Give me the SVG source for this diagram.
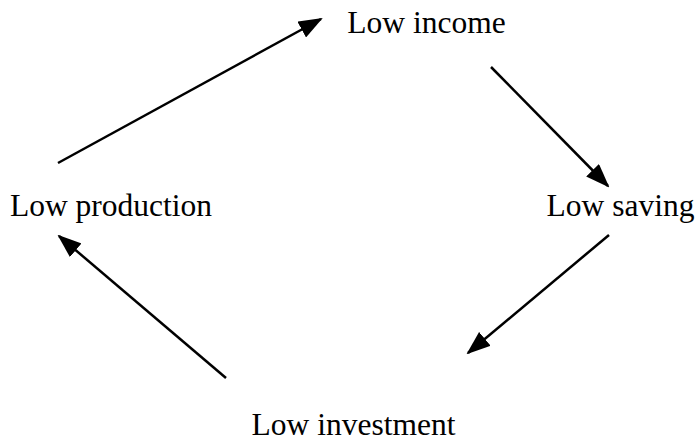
<svg xmlns="http://www.w3.org/2000/svg" width="698" height="440" viewBox="0 0 698 440">
<style>
text{font-family:"Liberation Serif","Times New Roman",serif;font-size:31.5px;fill:#000;text-anchor:middle}
.c line{stroke:#000;stroke-width:2.5;marker-end:url(#ah)}
</style>
<defs>
<marker id="ah" markerUnits="userSpaceOnUse" markerWidth="24" markerHeight="18" viewBox="0 0 24 18" refX="22" refY="9" orient="auto">
<path d="M0,0 L24,9 L0,18 Z" fill="#000"/>
</marker>
</defs>
<rect width="698" height="440" fill="#fff"/>
<g class="c" id="connectors">
<line x1="58" y1="163" x2="321" y2="19"/>
<line x1="491" y1="67" x2="608" y2="186"/>
<line x1="609" y1="235" x2="468" y2="353"/>
<line x1="226" y1="378" x2="59" y2="236"/>
</g>
<g id="income"><text x="426.5" y="33">Low income</text></g>
<g id="saving"><text x="620.5" y="216">Low saving</text></g>
<g id="investment"><text x="353.5" y="435">Low investment</text></g>
<g id="production"><text x="111" y="216">Low production</text></g>
</svg>
